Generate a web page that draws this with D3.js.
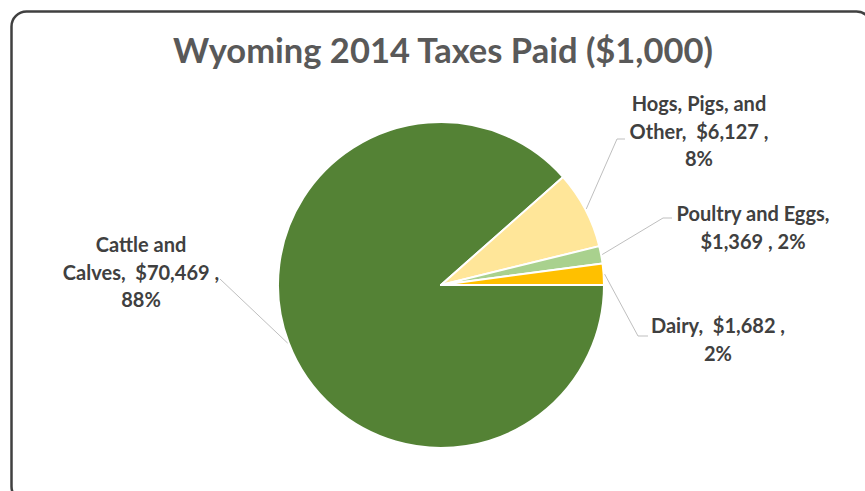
<!DOCTYPE html>
<html>
<head>
<meta charset="utf-8">
<script src="https://cdn.jsdelivr.net/npm/d3@7/dist/d3.min.js"></script>
<style>
  html, body { margin: 0; padding: 0; background: #fff; }
  svg { display: block; }
  text { white-space: pre; }
</style>
</head>
<body>
<script>
// Wyoming 2014 taxes paid by commodity, in $1,000
const categories = ["Cattle and Calves", "Hogs, Pigs, and Other", "Poultry and Eggs", "Dairy"];
const values = [70469, 6127, 1369, 1682];
const colors = ["#548235", "#FFE699", "#A9D18E", "#FFC000"];
// label text lines per slice ({v} = value, {p} = percent)
const labelLines = [
  ["Cattle and", "Calves,  {v} ,", "{p}"],
  ["Hogs, Pigs, and", "Other,  {v} ,", "{p}"],
  ["Poultry and Eggs,", "{v} , {p}"],
  ["Dairy,  {v} ,", "{p}"]
];
const title = "Wyoming 2014 Taxes Paid ($1,000)";

const W = 865, H = 491;
const cx = 441, cy = 285, R = 163;
const font = "Lato, 'Open Sans', sans-serif";

// label layout: text centre x, first-line y, leader elbow and end
const labelLayout = [
  { x: 141, y: 252, elbow: [220, 279] },
  { x: 699, y: 111, elbow: [617, 139], end: [625, 139] },
  { x: 753, y: 221, elbow: [663, 218], end: [672, 218] },
  { x: 718, y: 333, elbow: [638, 336], end: [648, 336] }
];

const svg = d3.select("body").append("svg")
  .attr("width", W).attr("height", H);

svg.append("rect")
  .attr("x", 11.5).attr("y", 11.5)
  .attr("width", 860).attr("height", 490)
  .attr("rx", 15).attr("ry", 15)
  .attr("fill", "#fff")
  .attr("stroke", "#404040")
  .attr("stroke-width", 2.5);

svg.append("text")
  .attr("x", 443).attr("y", 63)
  .attr("text-anchor", "middle")
  .attr("font-family", font)
  .attr("font-weight", 700)
  .attr("font-size", 34.5)
  .attr("fill", "#595959")
  .text(title);

const data = categories.map((c, i) => ({ name: c, value: values[i], color: colors[i], i }));
const total = d3.sum(values);

const pie = d3.pie()
  .value(d => d.value)
  .sort(null)
  .startAngle(Math.PI / 2)
  .endAngle(Math.PI / 2 + 2 * Math.PI);

const arcs = pie(data);
const arc = d3.arc().innerRadius(0).outerRadius(R);

const g = svg.append("g").attr("transform", `translate(${cx},${cy})`);

g.selectAll("path.slice")
  .data(arcs)
  .join("path")
  .attr("class", "slice")
  .attr("d", arc)
  .attr("fill", d => d.data.color)
  .attr("stroke", "#fff")
  .attr("stroke-width", 2)
  .attr("stroke-linejoin", "round");

const fmtV = d3.format("$,");
const fmtP = d3.format(".0%");

// leader lines from slice edge to label, then the label text
arcs.forEach((a, i) => {
  const L = labelLayout[i];
  const mid = (a.startAngle + a.endAngle) / 2;
  const sx = cx + (R + 1) * Math.sin(mid);
  const sy = cy - (R + 1) * Math.cos(mid);
  const pts = L.end ? [[sx, sy], L.elbow, L.end] : [[sx, sy], L.elbow];
  svg.append("path")
    .attr("d", d3.line()(pts))
    .attr("fill", "none")
    .attr("stroke", "#bfbfbf")
    .attr("stroke-width", 1);

  const lines = labelLines[i].map(s => s
    .replace("{v}", fmtV(a.data.value))
    .replace("{p}", fmtP(a.data.value / total)));
  const t = svg.append("text")
    .attr("font-family", font)
    .attr("font-weight", 700)
    .attr("font-size", 20)
    .attr("fill", "#404040")
    .attr("text-anchor", "middle");
  lines.forEach((s, k) => {
    t.append("tspan")
      .attr("x", L.x)
      .attr("y", L.y + k * 27.5)
      .text(s);
  });
});
</script>
</body>
</html>
